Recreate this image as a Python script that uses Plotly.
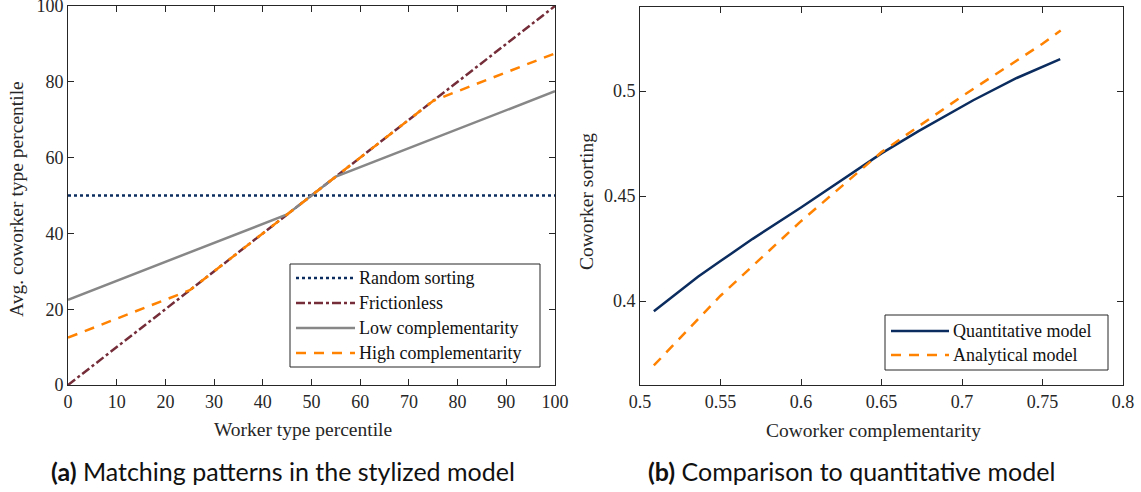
import plotly.graph_objects as go

# ---- Panel (a) data ----
pct_x = [0, 100]
random_y = [50, 50]
frictionless_x = [0, 100]
frictionless_y = [0, 100]
low_x = [0, 45, 55, 100]
low_y = [22.5, 45, 55, 77.5]
high_x = [0, 25, 75, 100]
high_y = [12.5, 25, 75, 87.5]

# ---- Panel (b) data ----
quant_x = [0.5086, 0.536, 0.55, 0.57, 0.60, 0.626, 0.65, 0.673, 0.70, 0.707, 0.734, 0.761]
quant_y = [0.3951, 0.4115, 0.4190, 0.4296, 0.4445, 0.4580, 0.4703, 0.4809, 0.4924, 0.4956, 0.5062, 0.5152]
anal_x = [0.5086, 0.55, 0.60, 0.65, 0.70, 0.75, 0.7613]
anal_y = [0.3693, 0.4025, 0.438, 0.4709, 0.4975, 0.5225, 0.5288]

xticks_a = list(range(0, 101, 10))
yticks_a = list(range(0, 101, 20))
xticks_b = [0.5, 0.55, 0.6, 0.65, 0.7, 0.75, 0.8]
xticklabels_b = ["0.5", "0.55", "0.6", "0.65", "0.7", "0.75", "0.8"]
yticks_b = [0.4, 0.45, 0.5]
yticklabels_b = ["0.4", "0.45", "0.5"]

legend_a_names = ["Random sorting", "Frictionless", "Low complementarity", "High complementarity"]
legend_b_names = ["Quantitative model", "Analytical model"]

NAVY = "#0b2c5e"
MAROON = "#742d39"
GRAY = "#878787"
ORANGE = "#ff8200"
AX = "#262626"
SERIF = "Liberation Serif"

styles_a = [
    dict(color=NAVY, width=2.5, dash="dot"),
    dict(color=MAROON, width=2.5, dash="dashdot"),
    dict(color=GRAY, width=2.5),
    dict(color=ORANGE, width=2.5, dash="10px,8px"),
]
styles_b = [
    dict(color=NAVY, width=2.5),
    dict(color=ORANGE, width=2.5, dash="10px,8px"),
]

fig = go.Figure()
for (xs, ys), name, st in zip([(pct_x, random_y), (frictionless_x, frictionless_y), (low_x, low_y), (high_x, high_y)],
                               legend_a_names, styles_a):
    fig.add_trace(go.Scatter(x=xs, y=ys, mode="lines", name=name, line=st,
                             xaxis="x", yaxis="y", showlegend=False))
for (xs, ys), name, st in zip([(quant_x, quant_y), (anal_x, anal_y)], legend_b_names, styles_b):
    fig.add_trace(go.Scatter(x=xs, y=ys, mode="lines", name=name, line=st,
                             xaxis="x2", yaxis="y2", showlegend=False))

W, H = 1141, 492
ml, mr, mt, mb = 68, 18, 3, 107
pw = W - ml - mr
ph = H - mt - mb


def dx(px):
    return (px - ml) / pw


def dy(py):
    return (H - mb - py) / ph


axis_common = dict(
    showgrid=False, zeroline=False, showline=True, linecolor=AX, linewidth=1,
    mirror="allticks", ticks="inside", ticklen=6, tickcolor=AX,
    tickfont=dict(family=SERIF, size=18, color=AX),
    automargin=False, ticklabeloverflow="allow",
)

fig.update_layout(
    width=W, height=H,
    margin=dict(l=ml, r=mr, t=mt, b=mb),
    paper_bgcolor="white", plot_bgcolor="white",
    showlegend=False,
    xaxis=dict(domain=[dx(68), dx(555)], range=[0, 100], tickvals=xticks_a, anchor="y", **axis_common),
    yaxis=dict(domain=[dy(385), dy(6)], range=[0, 100], tickvals=yticks_a, anchor="x", **axis_common),
    xaxis2=dict(domain=[dx(640), dx(1123)], range=[0.5, 0.8], tickvals=xticks_b, ticktext=xticklabels_b,
                anchor="y2", **axis_common),
    yaxis2=dict(domain=[dy(385), dy(7)], range=[0.36, 0.54], tickvals=yticks_b, ticktext=yticklabels_b,
                anchor="x2", **axis_common),
)

# axis titles
title_font = dict(family=SERIF, size=19.5, color=AX)
fig.add_annotation(text="Worker type percentile", xref="paper", yref="paper", x=dx(303), y=dy(429),
                   showarrow=False, xanchor="center", yanchor="middle", font=title_font)
fig.add_annotation(text="Coworker complementarity", xref="paper", yref="paper", x=dx(873), y=dy(430),
                   showarrow=False, xanchor="center", yanchor="middle", font=title_font)
fig.add_annotation(text="Avg. coworker type percentile", xref="paper", yref="paper", x=dx(16), y=dy(199),
                   showarrow=False, xanchor="center", yanchor="middle", textangle=-90, font=title_font)
fig.add_annotation(text="Coworker sorting", xref="paper", yref="paper", x=dx(586), y=dy(202),
                   showarrow=False, xanchor="center", yanchor="middle", textangle=-90, font=title_font)


# legends drawn as shapes + real text
def add_legend(box, rows, sample_x, text_x, names, styles):
    x0, y0, x1, y1 = box
    fig.add_shape(type="rect", xref="paper", yref="paper", x0=dx(x0), x1=dx(x1), y0=dy(y1), y1=dy(y0),
                  line=dict(color=AX, width=1), fillcolor="white", layer="above")
    for ry, name, st in zip(rows, names, styles):
        fig.add_shape(type="line", xref="paper", yref="paper", x0=dx(sample_x[0]), x1=dx(sample_x[1]),
                      y0=dy(ry), y1=dy(ry), line=st, layer="above")
        fig.add_annotation(text=name, xref="paper", yref="paper", x=dx(text_x), y=dy(ry),
                           showarrow=False, xanchor="left", yanchor="middle",
                           font=dict(family=SERIF, size=18, color="#111"))


add_legend((290, 264, 540, 367), [278, 303, 328, 353], (296, 355), 357, legend_a_names, styles_a)
add_legend((885, 315, 1108, 370), [331, 355], (891, 949), 951, legend_b_names, styles_b)

cap_y = dy(471)
cap_font = dict(family="Lato", size=25, color="#111")
fig.add_annotation(text="<b>(a)</b> Matching patterns in the stylized model", xref="paper", yref="paper",
                   x=dx(283), y=cap_y, showarrow=False, xanchor="center", yanchor="middle", font=cap_font)
fig.add_annotation(text="<b>(b)</b> Comparison to quantitative model", xref="paper", yref="paper",
                   x=dx(851), y=cap_y, showarrow=False, xanchor="center", yanchor="middle", font=cap_font)

fig.write_html("out.html", config={"displayModeBar": False},
               post_script="document.body.style.margin='0';document.body.style.overflow='hidden';")
